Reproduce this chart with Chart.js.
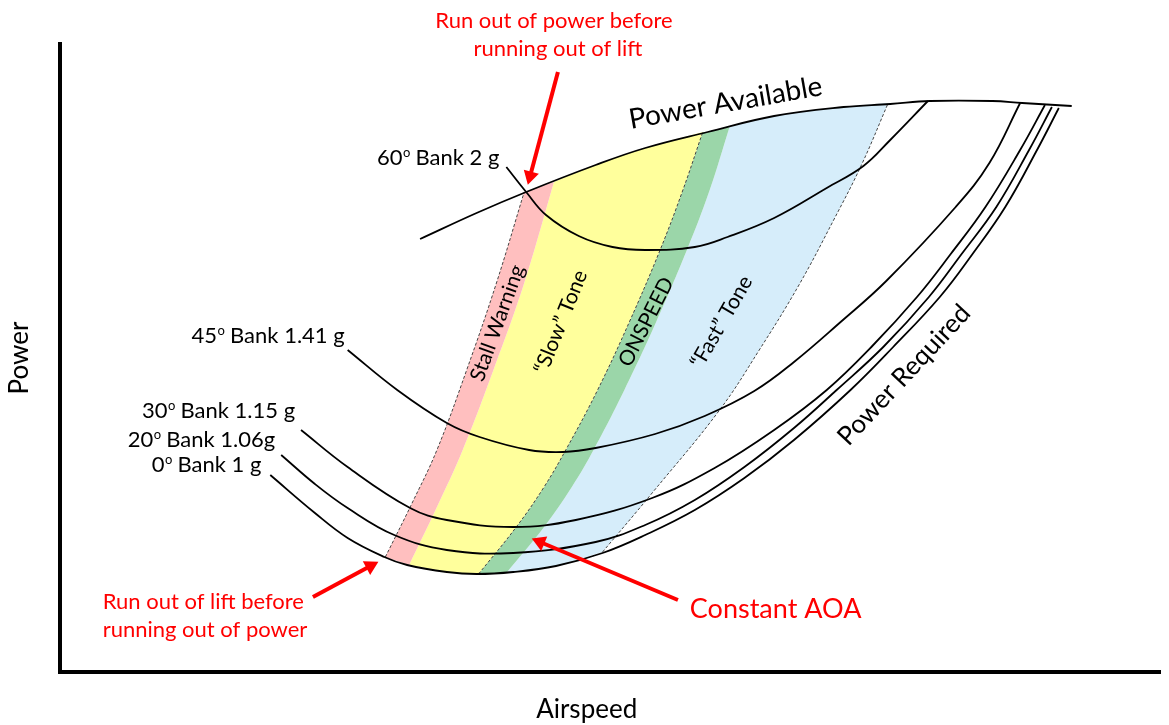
<!DOCTYPE html>
<html>
<head>
  <title>Power Required / Power Available</title>
  <script src="https://cdn.jsdelivr.net/npm/chart.js"></script>
  <style>body { margin: 0; background: #fff; }</style>
</head>
<body>
  <canvas id="myChart" width="1169" height="725"></canvas>
  <script>
    // values, [airspeed, power] in plot units
    var powerAvailable = [[363,433],[420,459],[470,480],[540,507],[590,524],[653,540],[720,556],[790,565],[837,568],[877,571],[940,571],[970,569],[1020,566]];

    var bank0  = [[212,197],[257,159],[290,134],[327,115],[350,107],[390,100],[420,98],[457,100],[500,106],[547,119],[590,137],[640,162],[690,194],[740,232],[797,282],[840,325],[887,375],[920,418],[953,465],[985,522],[1007,564]];
    var bank20 = [[223,217],[257,188],[290,164],[337,137],[390,122],[457,119],[540,130],[590,147],[640,172],[690,205],[740,244],[783,282],[830,325],[876,375],[909,418],[944,465],[977,522],[1000,565]];
    var bank30 = [[243,242],[290,205],[353,164],[390,152],[457,145],[520,152],[597,174],[660,204],[720,242],[773,282],[818,325],[864,375],[898,418],[933,465],[968,522],[993,567]];
    var bank45 = [[290,322],[340,282],[390,249],[423,235],[473,222],[507,220],[540,224],[600,238],[650,256],[700,281],[740,310],[787,350],[833,391],[903,465],[937,509],[968,569]];
    var bank60 = [[450,505],[470,480],[490,457],[523,436],[557,425],[590,422],[640,425],[673,435],[720,454],[773,484],[810,506],[837,532],[875,571]];

    // AOA band edges (bottom -> top)
    var stallEdge   = [[328,115],[355,169],[380,222],[410,302],[440,389],[468,480]];
    var slowEdge    = [[352,107],[380,165],[406,222],[437,302],[468,389],[498,490]];
    var onspeedLow  = [[422,98],[460,145],[488,185],[511,224],[542,282],[574,350],[605,422],[628,482],[648,540]];
    var onspeedHigh = [[450,99],[488,145],[516,185],[539,224],[569,282],[601,350],[632,422],[655,482],[675,545]];
    var fastEdge    = [[547,120],[597,179],[665,262],[705,322],[745,387],[780,452],[808,507],[835,569]];

    // bank labels
    var bankAngle = ['0', '20', '30', '45', '60'];
    var bankLoad  = ['1 g', '1.06g', '1.15 g', '1.41 g', '2 g'];
    var bankLabelAt = [[203,200],[217,225],[237,254],[287,329],[443,507]];

    // red call-out arrows: tail -> head
    var arrowTail = [[502,600],[255,75],[623,72]];
    var arrowHead = [[474,496],[313,106],[484,130]];

    var notes = [
      { text: 'Power Available', at: [671,569], rot: -10, size: 28 },
      { text: 'Power Required', at: [851,297], rot: -47, size: 26 },
      { text: 'Stall Warning', at: [441,349], rot: -70, size: 21 },
      { text: '\u201cSlow\u201d Tone', at: [505,350], rot: -68, size: 21 },
      { text: 'ONSPEED', at: [591,350], rot: -63, size: 21 },
      { text: '\u201cFast\u201d Tone', at: [667,350], rot: -60, size: 21 },
      { text: 'Run out of power before', at: [498,644], size: 22, color: '#ff0000', base: 'alphabetic' },
      { text: 'running out of lift', at: [502,616], size: 22, color: '#ff0000', base: 'alphabetic' },
      { text: 'Run out of lift before', at: [43,63], size: 22, color: '#ff0000', base: 'alphabetic', align: 'left' },
      { text: 'running out of power', at: [43,35], size: 22, color: '#ff0000', base: 'alphabetic', align: 'left' },
      { text: 'Constant AOA', at: [635,54], size: 27, color: '#ff0000', base: 'alphabetic', align: 'left' }
    ];

    function xy(p) { return { x: p[0], y: p[1] }; }

    // closed outline of a band: left edge up, along power available, right edge down, back along the 0 deg curve
    function band(left, right) {
      var lt = left[left.length - 1], rt = right[right.length - 1];
      var top = powerAvailable.filter(function (p) { return p[0] > lt[0] + 3 && p[0] < rt[0] - 3; });
      var bottom = bank0.filter(function (p) { return p[0] > left[0][0] + 3 && p[0] < right[0][0] - 3; }).reverse();
      return left.concat([lt], top, [rt], right.slice().reverse(), [right[0]], bottom).map(xy);
    }

    function shape(pts, color) {
      return { data: band(pts[0], pts[1]), backgroundColor: color, borderWidth: 0, pointRadius: 0, tension: 0.4, fill: 'shape', order: 10 };
    }

    function curve(pts) {
      return { data: pts.map(xy), borderColor: '#000', borderWidth: 1.8, pointRadius: 0, tension: 0.4, fill: false, order: 2 };
    }

    function dashed(pts) {
      return { data: pts.map(xy), borderColor: '#444', borderWidth: 1, borderDash: [3, 2], pointRadius: 0, tension: 0.4, fill: false, order: 3 };
    }

    function arrow(i) {
      var dx = arrowHead[i][0] - arrowTail[i][0], dy = arrowHead[i][1] - arrowTail[i][1];
      return {
        data: [xy(arrowTail[i]), xy(arrowHead[i])],
        borderColor: '#ff0000', borderWidth: 4, tension: 0, fill: false, order: 0,
        pointStyle: 'triangle', pointRadius: [0, 9], pointBorderWidth: 0,
        pointBackgroundColor: '#ff0000', pointRotation: [0, Math.atan2(dx, dy) * 180 / Math.PI]
      };
    }

    var labelPlugin = {
      id: 'labels',
      afterDatasetsDraw: function (chart) {
        var ctx = chart.ctx, sx = chart.scales.x, sy = chart.scales.y;
        ctx.save();
        notes.forEach(function (n) {
          ctx.save();
          ctx.translate(sx.getPixelForValue(n.at[0]), sy.getPixelForValue(n.at[1]));
          ctx.rotate((n.rot || 0) * Math.PI / 180);
          ctx.font = n.size + 'px Lato';
          ctx.fillStyle = n.color || '#000';
          ctx.textAlign = n.align || 'center';
          ctx.textBaseline = n.base || 'middle';
          ctx.fillText(n.text, 0, 0);
          ctx.restore();
        });
        // "60o Bank 2 g" style labels, right aligned, small raised o
        ctx.fillStyle = '#000';
        ctx.textAlign = 'left';
        ctx.textBaseline = 'alphabetic';
        bankAngle.forEach(function (a, i) {
          var px = sx.getPixelForValue(bankLabelAt[i][0]), py = sy.getPixelForValue(bankLabelAt[i][1]);
          var rest = ' Bank ' + bankLoad[i];
          ctx.font = '22px Lato';
          var w1 = ctx.measureText(a).width, w3 = ctx.measureText(rest).width;
          ctx.font = '13px Lato';
          var w2 = ctx.measureText('o').width;
          var x0 = px - w1 - w2 - w3;
          ctx.font = '22px Lato';
          ctx.fillText(a, x0, py);
          ctx.fillText(rest, x0 + w1 + w2, py);
          ctx.font = '13px Lato';
          ctx.fillText('o', x0 + w1 + 0.5, py - 8);
        });
        ctx.restore();
      }
    };

    Chart.defaults.font.family = 'Lato';
    Chart.defaults.color = '#000';

    var datasets = [
      shape([stallEdge, slowEdge], '#ffbfbf'),
      shape([slowEdge, onspeedLow], '#ffff9c'),
      shape([onspeedLow, onspeedHigh], '#9bd6a9'),
      shape([onspeedHigh, fastEdge], '#d6edfa'),
      dashed(stallEdge),
      dashed(onspeedLow),
      dashed(fastEdge),
      curve(powerAvailable),
      curve(bank0),
      curve(bank20),
      curve(bank30),
      curve(bank45),
      curve(bank60),
      arrow(0), arrow(1), arrow(2)
    ];

    var myChart = new Chart(document.getElementById('myChart').getContext('2d'), {
      type: 'line',
      data: { datasets: datasets },
      options: {
        responsive: false,
        animation: false,
        layout: { padding: { top: 44, left: 0, right: 0, bottom: 0 } },
        plugins: { legend: { display: false }, tooltip: { enabled: false } },
        scales: {
          x: {
            type: 'linear', min: 0, max: 1109,
            ticks: { display: false },
            grid: { display: false, drawTicks: false },
            border: { color: '#000', width: 4 },
            title: { display: true, text: 'Airspeed\u00a0\u00a0\u00a0\u00a0\u00a0\u00a0\u00a0', font: { size: 26 }, padding: { top: 0, bottom: 0 } },
            afterFit: function (s) { s.height = 53; }
          },
          y: {
            type: 'linear', min: 0, max: 628,
            ticks: { display: false },
            grid: { display: false, drawTicks: false },
            border: { color: '#000', width: 4 },
            title: { display: true, text: 'Power', font: { size: 26 }, padding: { top: 4, bottom: 0 } },
            afterFit: function (s) { s.width = 60; }
          }
        }
      },
      plugins: [labelPlugin]
    });
  </script>
</body>
</html>
